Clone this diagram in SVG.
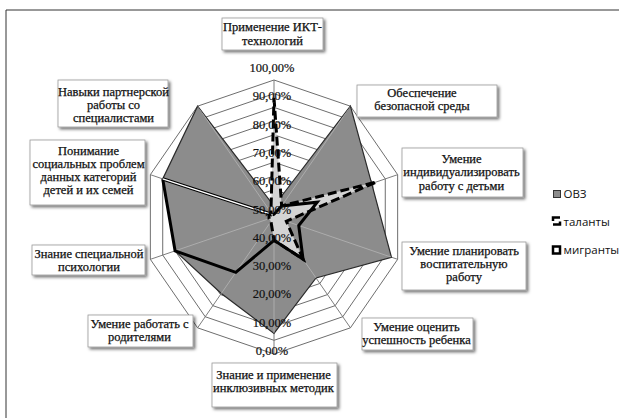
<svg xmlns="http://www.w3.org/2000/svg" xmlns:xlink="http://www.w3.org/1999/xlink" width="619" height="418" viewBox="0 0 619 418">
<style>
.lbl{font-family:'Liberation Serif','Times New Roman',serif;font-size:12.5px;fill:#111;stroke:#111;stroke-width:0.25;text-anchor:middle}
.ax{font-family:'Liberation Serif','Times New Roman',serif;font-size:12.5px;fill:#111;stroke:#111;stroke-width:0.2;text-anchor:middle}
.leg{font-family:'Open Sans','Noto Sans',sans-serif;font-size:11.5px;fill:#111}
.box{fill:#fff;stroke:#9a9a9a;stroke-width:0.8}
.ring{fill:none;stroke:#6e6e6e;stroke-width:1;vector-effect:non-scaling-stroke}
.spoke{stroke:#6e6e6e;stroke-width:0.9}
.spokeL{stroke:#b0b0b0;stroke-width:0.9}
</style>
<defs>
<filter id="sh" x="-15%" y="-20%" width="140%" height="160%">
<feDropShadow dx="2" dy="2" stdDeviation="1.8" flood-color="#000" flood-opacity="0.55"/>
</filter>
<polygon id="dec" class="ring" points="0,-1 0.5878,-0.809 0.9511,-0.309 0.9511,0.309 0.5878,0.809 0,1 -0.5878,0.809 -0.9511,0.309 -0.9511,-0.309 -0.5878,-0.809"/>
<clipPath id="ovzclip">
<polygon points="274,206 350.41,106.17 371.68,183.56 391.46,257.21 316.03,277.96 274,333.45 221.28,293.47 175.09,250.86 162.72,178.9 197.59,106.17"/>
</clipPath>
</defs>
<rect width="619" height="418" fill="#fff"/>
<path d="M6,418 V10 H619" fill="none" stroke="#333" stroke-width="1"/>

<g id="grid">
<use xlink:href="#dec" transform="translate(274 217) scale(13 13.7)"/>
<use xlink:href="#dec" transform="translate(274 217) scale(26 27.4)"/>
<use xlink:href="#dec" transform="translate(274 217) scale(39 41.1)"/>
<use xlink:href="#dec" transform="translate(274 217) scale(52 54.8)"/>
<use xlink:href="#dec" transform="translate(274 217) scale(65 68.5)"/>
<use xlink:href="#dec" transform="translate(274 217) scale(78 82.2)"/>
<use xlink:href="#dec" transform="translate(274 217) scale(91 95.9)"/>
<use xlink:href="#dec" transform="translate(274 217) scale(104 109.6)"/>
<use xlink:href="#dec" transform="translate(274 217) scale(117 123.3)"/>
<use xlink:href="#dec" transform="translate(274 217) scale(130 137)"/>
<g class="spoke">
<line x1="274" y1="217" x2="274" y2="80"/>
<line x1="274" y1="217" x2="350.41" y2="106.17"/>
<line x1="274" y1="217" x2="397.64" y2="174.67"/>
<line x1="274" y1="217" x2="397.64" y2="259.33"/>
<line x1="274" y1="217" x2="350.41" y2="327.83"/>
<line x1="274" y1="217" x2="274" y2="354"/>
<line x1="274" y1="217" x2="197.59" y2="327.83"/>
<line x1="274" y1="217" x2="150.36" y2="259.33"/>
<line x1="274" y1="217" x2="150.36" y2="174.67"/>
<line x1="274" y1="217" x2="197.59" y2="106.17"/>
</g>
</g>

<g id="series">
<polygon id="ovz" points="274,206 350.41,106.17 371.68,183.56 391.46,257.21 316.03,277.96 274,333.45 221.28,293.47 175.09,250.86 162.72,178.9 197.59,106.17" fill="#8c8c8c" stroke="#2a2a2a" stroke-width="1.2"/>
<g class="spokeL" clip-path="url(#ovzclip)">
<line x1="274" y1="217" x2="274" y2="80"/>
<line x1="274" y1="217" x2="350.41" y2="106.17"/>
<line x1="274" y1="217" x2="397.64" y2="174.67"/>
<line x1="274" y1="217" x2="397.64" y2="259.33"/>
<line x1="274" y1="217" x2="350.41" y2="327.83"/>
<line x1="274" y1="217" x2="274" y2="354"/>
<line x1="274" y1="217" x2="197.59" y2="327.83"/>
<line x1="274" y1="217" x2="150.36" y2="259.33"/>
<line x1="274" y1="217" x2="150.36" y2="174.67"/>
<line x1="274" y1="217" x2="197.59" y2="106.17"/>
</g>
<polygon id="talanty-fill" points="274,97.81 281.64,205.92 376.62,181.87 286.36,221.23 303.04,259.12 274,240.29 270.94,221.43 269.05,218.69 269.05,215.31 270.94,212.57" fill="#d4d4d4" stroke="none"/>
<polyline id="migranty" points="272.47,214.78 274,214.26 281.64,205.92 317.27,202.18 298.73,225.47 303.04,259.12 274,240.29 235.8,272.42 175.09,250.86 162.72,178.9" fill="none" stroke="#000" stroke-width="3" stroke-linejoin="miter"/>
<line id="migranty-dbl" x1="162.72" y1="178.9" x2="272.47" y2="214.78" stroke="#000" stroke-width="3.6"/>
<line x1="162.72" y1="178.9" x2="272.47" y2="214.78" stroke="#fff" stroke-width="1.4"/>
<polygon id="talanty" points="274,97.81 281.64,205.92 376.62,181.87 286.36,221.23 303.04,259.12 274,240.29 270.94,221.43 269.05,218.69 269.05,215.31 270.94,212.57" fill="none" stroke="#000" stroke-width="3" stroke-dasharray="9 4"/>
</g>

<g id="axis-labels" class="ax">
<text x="272" y="72">100,00%</text>
<text x="272" y="100.3">90,00%</text>
<text x="272" y="128.6">80,00%</text>
<text x="272" y="156.9">70,00%</text>
<text x="272" y="185.2">60,00%</text>
<text x="272" y="213.5">50,00%</text>
<text x="272" y="241.8">40,00%</text>
<text x="272" y="270.1">30,00%</text>
<text x="272" y="298.4">20,00%</text>
<text x="272" y="326.7">10,00%</text>
<text x="272" y="355">0,00%</text>
</g>

<g id="n1"><rect class="box" filter="url(#sh)" x="222" y="18" width="101" height="32"/>
<text class="lbl" x="272.5" y="31">Применение ИКТ-</text><text class="lbl" x="272.5" y="44.5">технологий</text></g>
<g id="n2"><rect class="box" filter="url(#sh)" x="357" y="85" width="140" height="32"/>
<text class="lbl" x="422" y="97">Обеспечение</text><text class="lbl" x="422" y="110">безопасной среды</text></g>
<g id="n3"><rect class="box" filter="url(#sh)" x="402" y="148" width="121" height="49"/>
<text class="lbl" x="461.5" y="162.5">Умение</text><text class="lbl" x="461.5" y="176">индивидуализировать</text><text class="lbl" x="461.5" y="189.5">работу с  детьми</text></g>
<g id="n4"><rect class="box" filter="url(#sh)" x="402" y="242" width="124" height="48"/>
<text class="lbl" x="464" y="255">Умение планировать</text><text class="lbl" x="464" y="268">воспитательную</text><text class="lbl" x="464" y="281">работу</text></g>
<g id="n5"><rect class="box" filter="url(#sh)" x="362" y="318" width="111" height="32"/>
<text class="lbl" x="416.5" y="331">Умение оценить</text><text class="lbl" x="416.5" y="344">успешность ребенка</text></g>
<g id="n6"><rect class="box" filter="url(#sh)" x="212" y="363" width="125" height="44"/>
<text class="lbl" x="273.5" y="379">Знание и применение</text><text class="lbl" x="273.5" y="392">инклюзивных методик</text></g>
<g id="n7"><rect class="box" filter="url(#sh)" x="88" y="315" width="105" height="32"/>
<text class="lbl" x="139.5" y="328">Умение работать с</text><text class="lbl" x="139.5" y="341">родителями</text></g>
<g id="n8"><rect class="box" filter="url(#sh)" x="32" y="245" width="113" height="30"/>
<text class="lbl" x="89" y="257.5">Знание специальной</text><text class="lbl" x="89" y="270.5">психологии</text></g>
<g id="n9"><rect class="box" filter="url(#sh)" x="30" y="140" width="115" height="65"/>
<text class="lbl" x="88.5" y="155">Понимание</text><text class="lbl" x="88.5" y="168">социальных проблем</text><text class="lbl" x="88.5" y="181">данных категорий</text><text class="lbl" x="88.5" y="194">детей и их семей</text></g>
<g id="n10"><rect class="box" filter="url(#sh)" x="58" y="80" width="110" height="47"/>
<text class="lbl" x="113.5" y="95.5">Навыки партнерской</text><text class="lbl" x="113.5" y="108.5">работы со</text><text class="lbl" x="113.5" y="121.5">специалистами</text></g>

<g id="legend">
<rect x="553.5" y="190.5" width="7" height="7" fill="#8c8c8c" stroke="#333" stroke-width="1"/>
<text class="leg" x="563.5" y="198">ОВЗ</text>
<rect x="553" y="217.5" width="7" height="7" fill="#fff" stroke="#000" stroke-width="2.5" stroke-dasharray="10.5 4 10 3.5" stroke-dashoffset="3.5"/>
<text class="leg" x="563.5" y="225.5">таланты</text>
<rect x="553" y="246.5" width="7" height="7" fill="#fff" stroke="#000" stroke-width="2.5"/>
<text class="leg" x="563.5" y="254">мигранты</text>
</g>
</svg>
